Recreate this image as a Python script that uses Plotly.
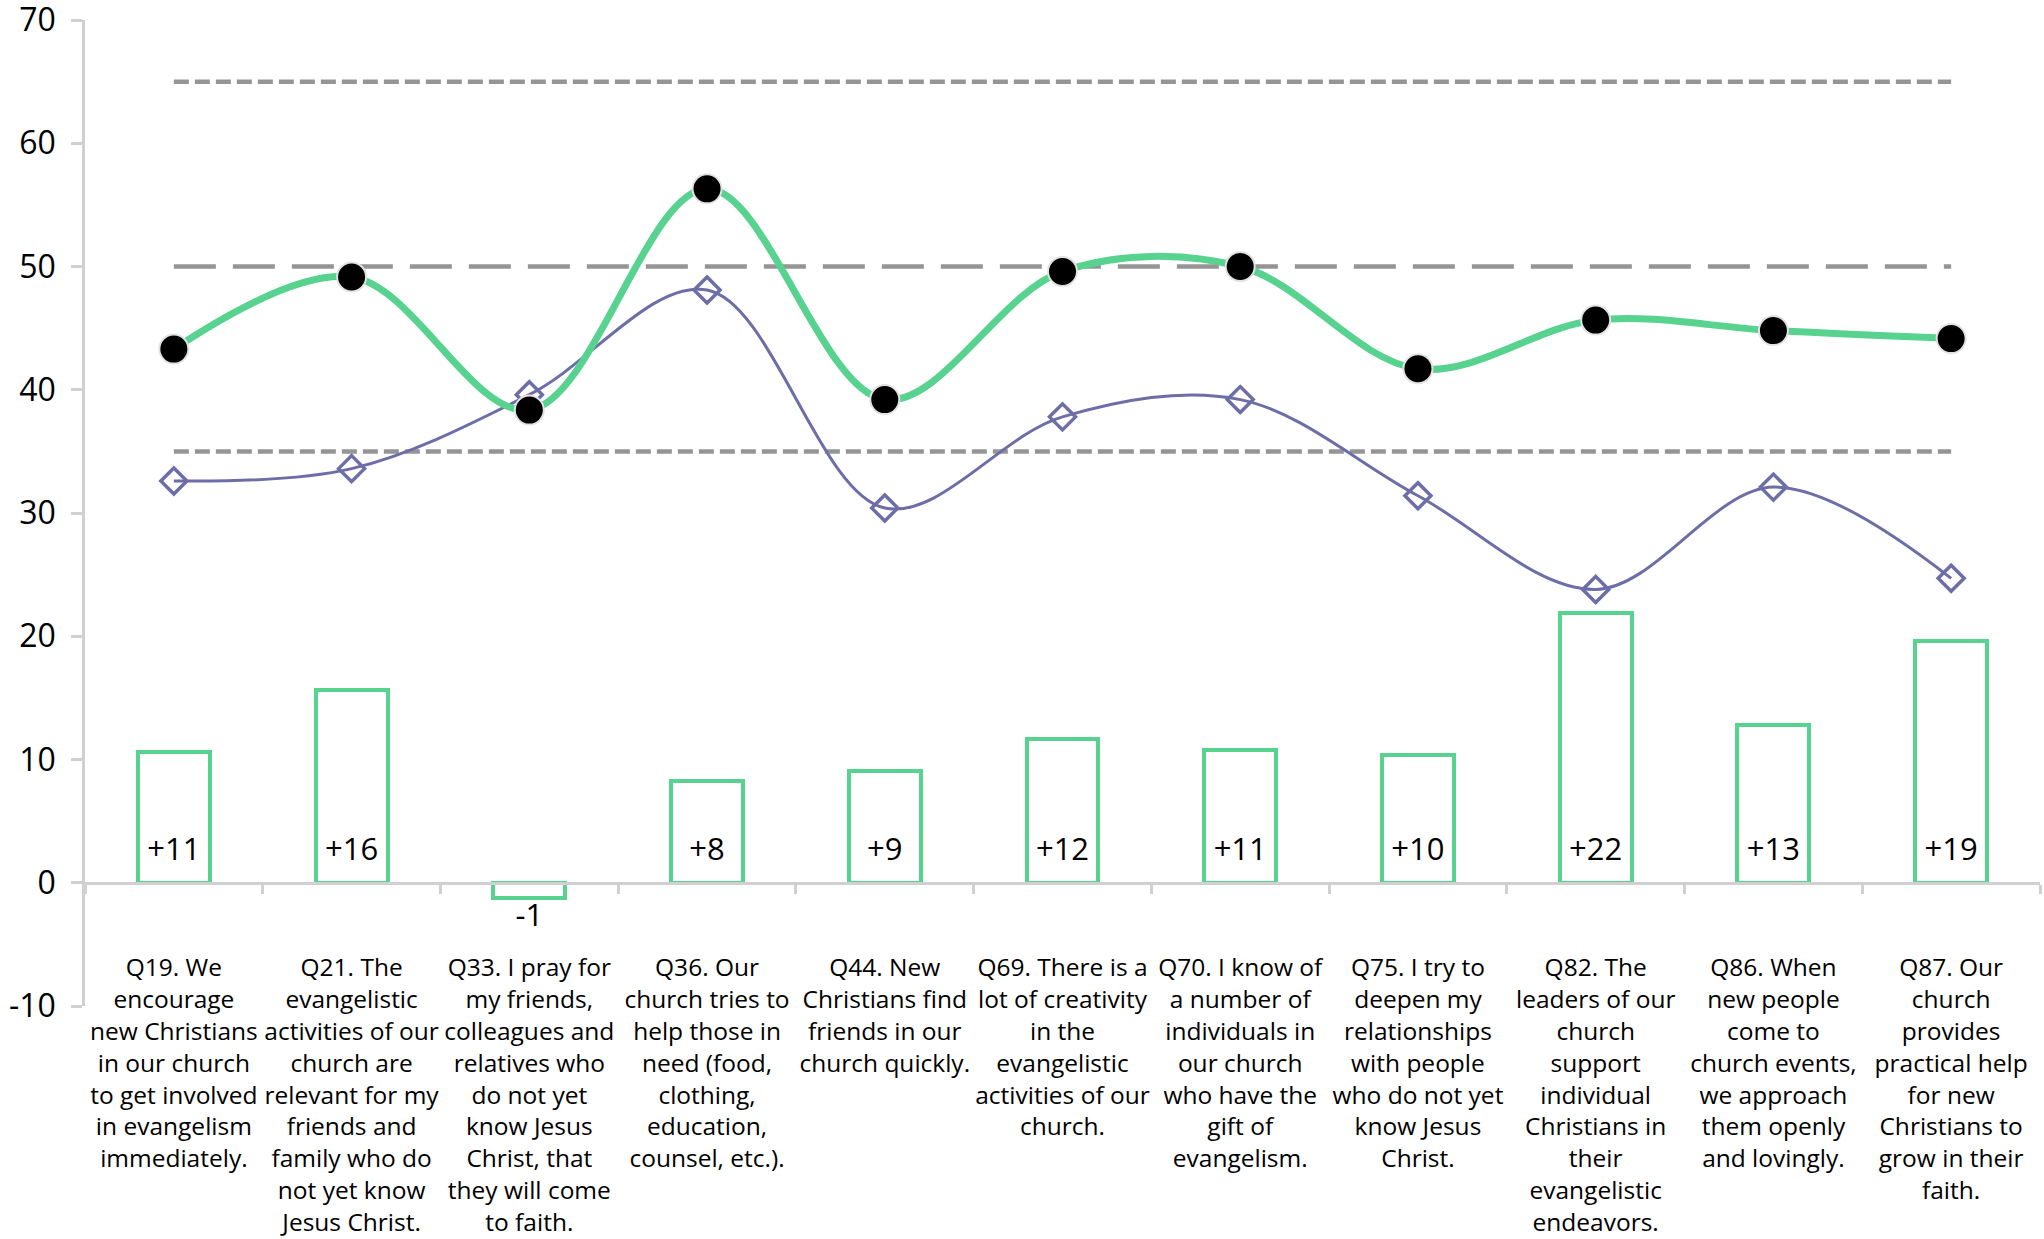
import plotly.graph_objects as go

categories = [
    "Q19. We<br>encourage<br>new Christians<br>in our church<br>to get involved<br>in evangelism<br>immediately.",
    "Q21. The<br>evangelistic<br>activities of our<br>church are<br>relevant for my<br>friends and<br>family who do<br>not yet know<br>Jesus Christ.",
    "Q33. I pray for<br>my friends,<br>colleagues and<br>relatives who<br>do not yet<br>know Jesus<br>Christ, that<br>they will come<br>to faith.",
    "Q36. Our<br>church tries to<br>help those in<br>need (food,<br>clothing,<br>education,<br>counsel, etc.).",
    "Q44. New<br>Christians find<br>friends in our<br>church quickly.",
    "Q69. There is a<br>lot of creativity<br>in the<br>evangelistic<br>activities of our<br>church.",
    "Q70. I know of<br>a number of<br>individuals in<br>our church<br>who have the<br>gift of<br>evangelism.",
    "Q75. I try to<br>deepen my<br>relationships<br>with people<br>who do not yet<br>know Jesus<br>Christ.",
    "Q82. The<br>leaders of our<br>church<br>support<br>individual<br>Christians in<br>their<br>evangelistic<br>endeavors.",
    "Q86. When<br>new people<br>come to<br>church events,<br>we approach<br>them openly<br>and lovingly.",
    "Q87. Our<br>church<br>provides<br>practical help<br>for new<br>Christians to<br>grow in their<br>faith.",
]

green_values = [43.3, 49.15, 38.35, 56.3, 39.2, 49.6, 50.0, 41.7, 45.65, 44.8, 44.15]
purple_values = [32.6, 33.6, 39.6, 48.1, 30.4, 37.8, 39.2, 31.4, 23.8, 32.1, 24.7]
diff_values = [10.6, 15.6, -1.27, 8.25, 9.1, 11.65, 10.8, 10.4, 21.9, 12.8, 19.6]
diff_labels = ["+11", "+16", "-1", "+8", "+9", "+12", "+11", "+10", "+22", "+13", "+19"]
ref_high = [65] * 11
ref_mid = [50] * 11
ref_low = [35] * 11

y_ticks = [-10, 0, 10, 20, 30, 40, 50, 60, 70]
y_tick_labels = ["-10", "0", "10", "20", "30", "40", "50", "60", "70"]

GREEN = "#57D28F"
PURPLE = "#6D6DA8"
DIAMOND = "#A3A3CF"
GREY_DASH = "#959595"
AXIS = "#D0D0D0"
FONT = "Open Sans, Liberation Sans, Arial, sans-serif"

Y_MIN, Y_MAX = -10, 70

fig = go.Figure()

# reference lines
fig.add_trace(go.Scatter(x=categories, y=ref_high, mode="lines",
                         line=dict(color=GREY_DASH, width=4.5, dash="15px,6px"),
                         hoverinfo="skip"))
fig.add_trace(go.Scatter(x=categories, y=ref_mid, mode="lines",
                         line=dict(color=GREY_DASH, width=4.5, dash="42px,17px"),
                         hoverinfo="skip"))
fig.add_trace(go.Scatter(x=categories, y=ref_low, mode="lines",
                         line=dict(color=GREY_DASH, width=4.5, dash="15px,6px"),
                         hoverinfo="skip"))

# difference bars
fig.add_trace(go.Bar(x=categories, y=diff_values, width=0.405,
                     marker=dict(color="rgba(255,255,255,0)",
                                 line=dict(color=GREEN, width=4))))

# bar labels
label_y = [2.5 if v >= 0 else v - 1.6 for v in diff_values]
fig.add_trace(go.Scatter(x=categories, y=label_y, mode="text", text=diff_labels,
                         textposition="middle center",
                         textfont=dict(family=FONT, size=31, color="#000000"),
                         hoverinfo="skip"))

# purple series
fig.add_trace(go.Scatter(x=categories, y=purple_values, mode="lines+markers",
                         line=dict(color=PURPLE, width=3, shape="spline", smoothing=1),
                         marker=dict(symbol="diamond-open", size=20,
                                     line=dict(color=DIAMOND, width=3.5))))

# green series
fig.add_trace(go.Scatter(x=categories, y=green_values, mode="lines+markers",
                         line=dict(color=GREEN, width=7, shape="spline", smoothing=1),
                         marker=dict(symbol="circle", size=29, color="#000000",
                                     line=dict(color="#E2E2E2", width=2))))

fig.update_layout(
    width=2044, height=1239,
    margin=dict(l=85, r=4, t=20, b=233),
    paper_bgcolor="white", plot_bgcolor="white",
    showlegend=False,
    font=dict(family=FONT, color="#000000"),
    bargap=0,
    yaxis=dict(range=[Y_MIN, Y_MAX], tickmode="array", tickvals=y_ticks,
               ticktext=y_tick_labels, showgrid=False, zeroline=False,
               showline=True, linecolor=AXIS, linewidth=2.5,
               ticks="outside", ticklen=11, tickwidth=2.5, tickcolor=AXIS,
               tickfont=dict(family=FONT, size=32, color="#000000"),
               ticklabelstandoff=9, ticklabeloverflow="allow", automargin=False),
    xaxis=dict(type="category", anchor="free", position=(0 - Y_MIN) / (Y_MAX - Y_MIN),
               range=[-0.5, 10.5], showgrid=False, zeroline=False,
               showline=True, linecolor=AXIS, linewidth=3,
               ticks="outside", tickson="boundaries", ticklen=9, tickwidth=2.5,
               tickcolor=AXIS, tickangle=0, automargin=False,
               tickfont=dict(family=FONT, size=24.5, color="#000000"),
               ticklabelstandoff=62),
)

fig.write_html("out.html", config={"displayModeBar": False},
               post_script="document.body.style.margin='0';")
